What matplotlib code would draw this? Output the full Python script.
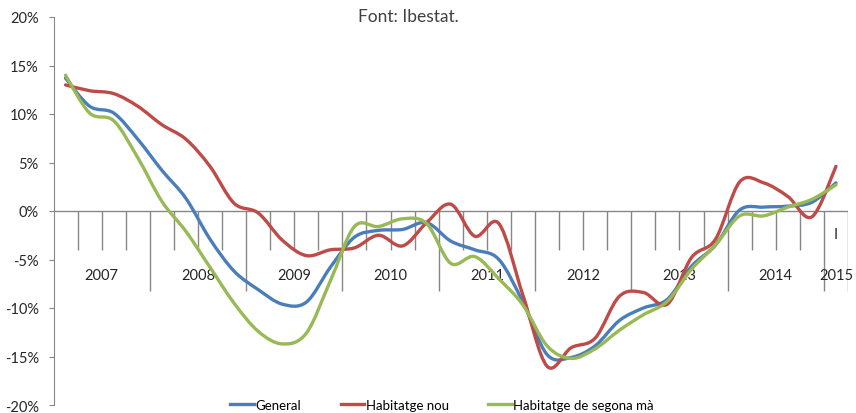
import numpy as np
import matplotlib
matplotlib.use("Agg")
import matplotlib.pyplot as plt
from matplotlib.path import Path
from matplotlib.patches import PathPatch
from matplotlib.lines import Line2D

plt.rcParams['font.family'] = ['Lato', 'DejaVu Sans']

# quarterly series, 2007 Q1 .. 2015 Q1 (% change)
years = ['2007', '2008', '2009', '2010', '2011', '2012', '2013', '2014', '2015']
quarter_labels = [''] * 32 + ['I']

general = [13.7, 10.8, 10.1, 7.4, 4.2, 1.3, -2.9, -6.2, -8.1, -9.6, -9.4, -5.8,
           -2.7, -2.0, -1.9, -1.2, -3.1, -4.0, -5.0, -9.4, -14.8, -15.1, -13.9, -11.3,
           -10.0, -9.1, -5.7, -3.5, 0.1, 0.4, 0.5, 0.9, 2.9]
nou = [13.0, 12.4, 12.1, 10.8, 8.9, 7.4, 4.6, 0.8, -0.2, -3.0, -4.6, -4.0,
       -3.8, -2.5, -3.6, -1.2, 0.7, -2.6, -1.3, -8.7, -16.0, -14.1, -13.1, -8.8,
       -8.4, -9.6, -4.8, -2.9, 3.0, 2.9, 1.5, -0.6, 4.6]
segona_ma = [14.0, 10.1, 9.3, 5.5, 1.0, -2.1, -5.8, -9.5, -12.4, -13.7, -12.6, -7.2,
             -1.6, -1.6, -0.8, -1.3, -5.4, -4.7, -7.0, -9.7, -13.9, -15.2, -14.2, -12.3,
             -10.7, -9.3, -6.0, -3.5, -0.5, -0.5, 0.4, 1.2, 2.7]

series = [("General", general, "#4A7EBB"),
          ("Habitatge nou", nou, "#BE4B48"),
          ("Habitatge de segona mà", segona_ma, "#98B954")]

gray = "#878787"
txt = "#262626"


def smooth_path(xs, ys):
    # Excel-style smoothed line: cubic Bezier segments through the points
    pts = np.column_stack([xs, ys]).astype(float)
    n = len(pts)
    verts = [pts[0]]
    codes = [Path.MOVETO]
    for i in range(n - 1):
        p0 = pts[i - 1] if i > 0 else pts[i]
        p1, p2 = pts[i], pts[i + 1]
        p3 = pts[i + 2] if i + 2 < n else pts[i + 1]
        verts += [p1 + (p2 - p0) / 6, p2 - (p3 - p1) / 6, p2]
        codes += [Path.CURVE4] * 3
    return Path(verts, codes)


fig = plt.figure(figsize=(8.56, 4.14), dpi=100)
ax = fig.add_axes([53.5 / 856, 1 - 406 / 414, (848 - 53.5) / 856, (406 - 18) / 414])

n = len(general)
x = np.arange(n)
ax.set_xlim(-0.5, n - 0.5)
ax.set_ylim(-20, 20)

# category axis at 0 with quarter / year separators
ax.axhline(0, color=gray, lw=1, zorder=1)
for k in range(1, n + 1):
    low = -8.2 if (k % 4 == 0 or k == n) else -4.0
    ax.vlines(k - 0.5, low, 0, color=gray, lw=1, zorder=1)

for j, yr in enumerate(years):
    cx = 4 * j + 1.5 if j < 8 else n - 1
    ax.text(cx, -6.6, yr, ha='center', va='center', fontsize=10.5, color=txt)
for i, q in enumerate(quarter_labels):
    if q:
        ax.text(i, -2.4, q, ha='center', va='center', fontsize=10.5, color=txt)

handles = []
for name, vals, col in series:
    patch = PathPatch(smooth_path(x, vals), facecolor='none', edgecolor=col,
                      lw=2.4, capstyle='round', joinstyle='round', zorder=3)
    ax.add_patch(patch)
    handles.append(Line2D([], [], color=col, lw=2.4, label=name))

ax.set_xticks([])
ax.set_yticks(np.arange(-20, 21, 5))
ax.set_yticklabels([f"{v}%" for v in range(-20, 21, 5)])
ax.tick_params(axis='y', direction='out', length=3.6, color=gray, labelsize=10.5,
               labelcolor=txt, pad=7)
for s in ['top', 'right', 'bottom']:
    ax.spines[s].set_visible(False)
ax.spines['left'].set_color(gray)
ax.patch.set_alpha(0)

fig.text(408 / 856, 1 - 17 / 414, "Font: Ibestat.", ha='center', va='center',
         fontsize=12.5, color="#404040")

ax.legend(handles=handles, loc='center', bbox_to_anchor=(442 / 856, 1 - 406 / 414),
          bbox_transform=fig.transFigure, ncol=3, frameon=False, fontsize=9.5,
          handlelength=1.8, handletextpad=0.1, columnspacing=3.0)

fig.savefig("out.png", dpi=100)
